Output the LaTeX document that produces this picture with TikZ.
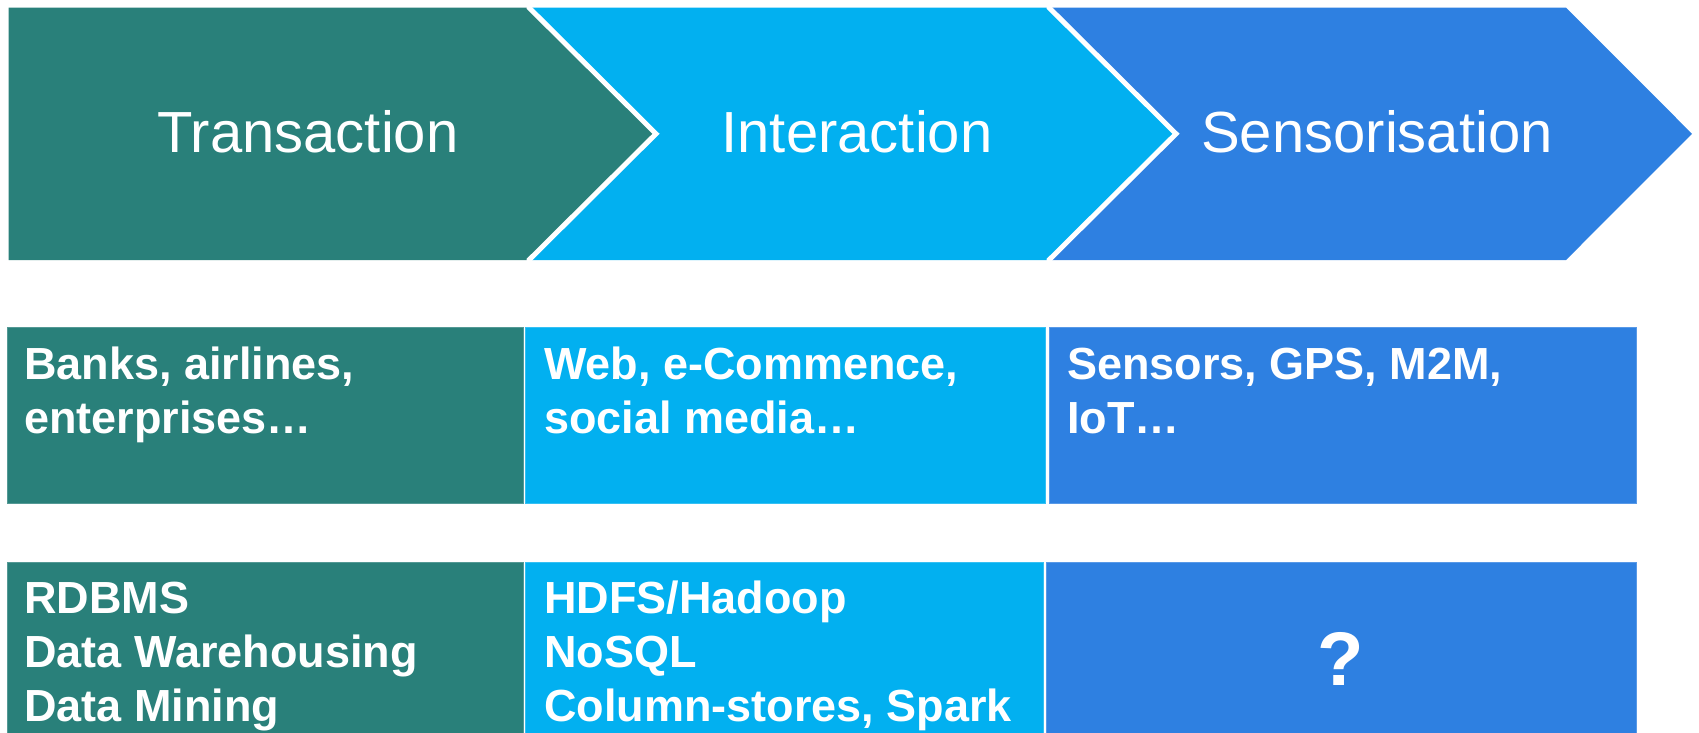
\documentclass[tikz,border=0pt]{standalone}
\usepackage{fontspec}
\setmainfont{Liberation Sans}
\definecolor{cteal}{HTML}{29807A}
\definecolor{ccyan}{HTML}{02B0F0}
\definecolor{cblue}{HTML}{2E80E1}
\tikzset{
  chev/.style={draw=white, line width=5pt, line join=miter},
  title/.style={text=white, font=\fontsize{58}{70}\selectfont, inner sep=0pt, anchor=base},
  cell/.style={line width=1pt},
  celltext/.style={text=white, font=\fontsize{45}{54}\selectfont\bfseries, inner sep=0pt, anchor=base west, align=left},
}
\begin{document}
\begin{tikzpicture}[x=1pt,y=-1pt]
\useasboundingbox (0,0) rectangle (1699,733);
% chevrons
\fill[cblue] (1050,7.6) -- (1566,7.6) -- (1692,133.8) -- (1566,260) -- (1050,260) -- cycle;
\fill[ccyan] (529,7.6) -- (1049,7.6) -- (1176,133.8) -- (1049,260) -- (529,260) -- cycle;
\fill[cteal] (8.7,7.6) -- (529,7.6) -- (656,133.8) -- (529,260) -- (8.7,260) -- cycle;
\draw[chev] (529,0) -- (529,7.6) -- (656,133.8) -- (529,260) -- (529,270);
\draw[chev] (1049,0) -- (1049,7.6) -- (1176,133.8) -- (1049,260) -- (1049,270);
\node[title] (t1) at (308,153) {Transaction};
\node[title] (t2) at (857,153) {Interaction};
\node[title] (t3) at (1377,153) {Sensorisation};
% boxes
\filldraw[cell, fill=cteal, draw=cteal!80!white] (7.6,327) rectangle (523,503);
\filldraw[cell, fill=ccyan, draw=ccyan!80!white] (525.5,327) rectangle (1045.5,503);
\filldraw[cell, fill=cblue, draw=cblue!80!white] (1049,327) rectangle (1636,503);
\filldraw[cell, fill=cteal, draw=cteal!80!white] (7.6,562) rectangle (523,740);
\filldraw[cell, fill=ccyan, draw=ccyan!80!white] (525.5,562) rectangle (1043,740);
\filldraw[cell, fill=cblue, draw=cblue!80!white] (1046,562) rectangle (1636,740);
% row 2 text (anchor = baseline of last line)
\node[celltext] (a1) at (24,433) {Banks, airlines,\\enterprises…};
\node[celltext] (a2) at (544,433) {Web, e-Commence,\\social media…};
\node[celltext] (a3) at (1067,433) {Sensors, GPS, M2M,\\IoT…};
% row 3 text
\node[celltext] (b1) at (24,721) {RDBMS\\Data Warehousing\\Data Mining};
\node[celltext] (b2) at (544,721) {HDFS/Hadoop\\NoSQL\\Column-stores, Spark};
\node[text=white, font=\fontsize{76}{90}\selectfont\bfseries, inner sep=0pt, anchor=base] (b3) at (1341,685) {?};
\end{tikzpicture}
\end{document}
